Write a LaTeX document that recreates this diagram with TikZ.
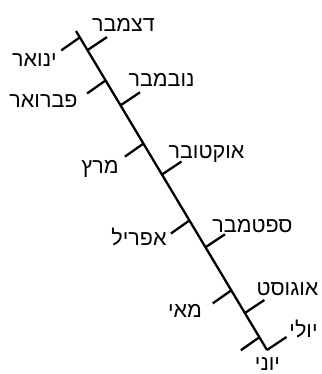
\documentclass[tikz,border=0pt]{standalone}
\usepackage{fontspec}
\usetikzlibrary{calc}
\TeXXeTstate=1
\newfontfamily\hebfont[Script=Hebrew]{Liberation Sans}

\begin{document}
\begin{tikzpicture}[
  x=1pt, y=-1pt,
  axis/.style={draw=black, line width=2.3pt},
  tick/.style={draw=black, line width=2.3pt},
  month/.style={font=\hebfont\fontsize{21.5}{24}\selectfont, inner sep=0pt, anchor=base}
]
\useasboundingbox (0,0) rectangle (321,374);

% The year as one slanted axis
\coordinate (top) at (76,31);
\coordinate (bottom) at (267,350);
\draw[axis] (top) -- (bottom);

% Months ticked on the left side
\foreach \name/\pos/\lx/\ly/\month in {jan/0.02/34.5/67/ינואר, feb/0.155/43.5/108/פברואר, mar/0.353/100/173/מרץ, apr/0.594/139/245/אפריל, may/0.813/185/317/מאי, jun/0.96/267.5/370/יוני}
{
  \coordinate (\name) at ($(top)!\pos!(bottom)$);
  \coordinate (\name-end) at ($(\name)+(-18.5,13)$);
  \draw[tick] (\name) -- (\name-end);
  \node[month] (\name-label) at (\lx,\ly) {\beginR\month\endR};
}

% Months ticked on the right side
\foreach \name/\pos/\lx/\ly/\month in {dec/0.06/123.5/32/דצמבר, nov/0.233/161.5/87/נובמבר, oct/0.45/206.5/158/אוקטובר, sep/0.678/252.5/232/ספטמבר, aug/0.884/287.5/295/אוגוסט, jul/1/303.5/337/יולי}
{
  \coordinate (\name) at ($(top)!\pos!(bottom)$);
  \coordinate (\name-end) at ($(\name)+(19.5,-13)$);
  \draw[tick] (\name) -- (\name-end);
  \node[month] (\name-label) at (\lx,\ly) {\beginR\month\endR};
}

\end{tikzpicture}
\end{document}
